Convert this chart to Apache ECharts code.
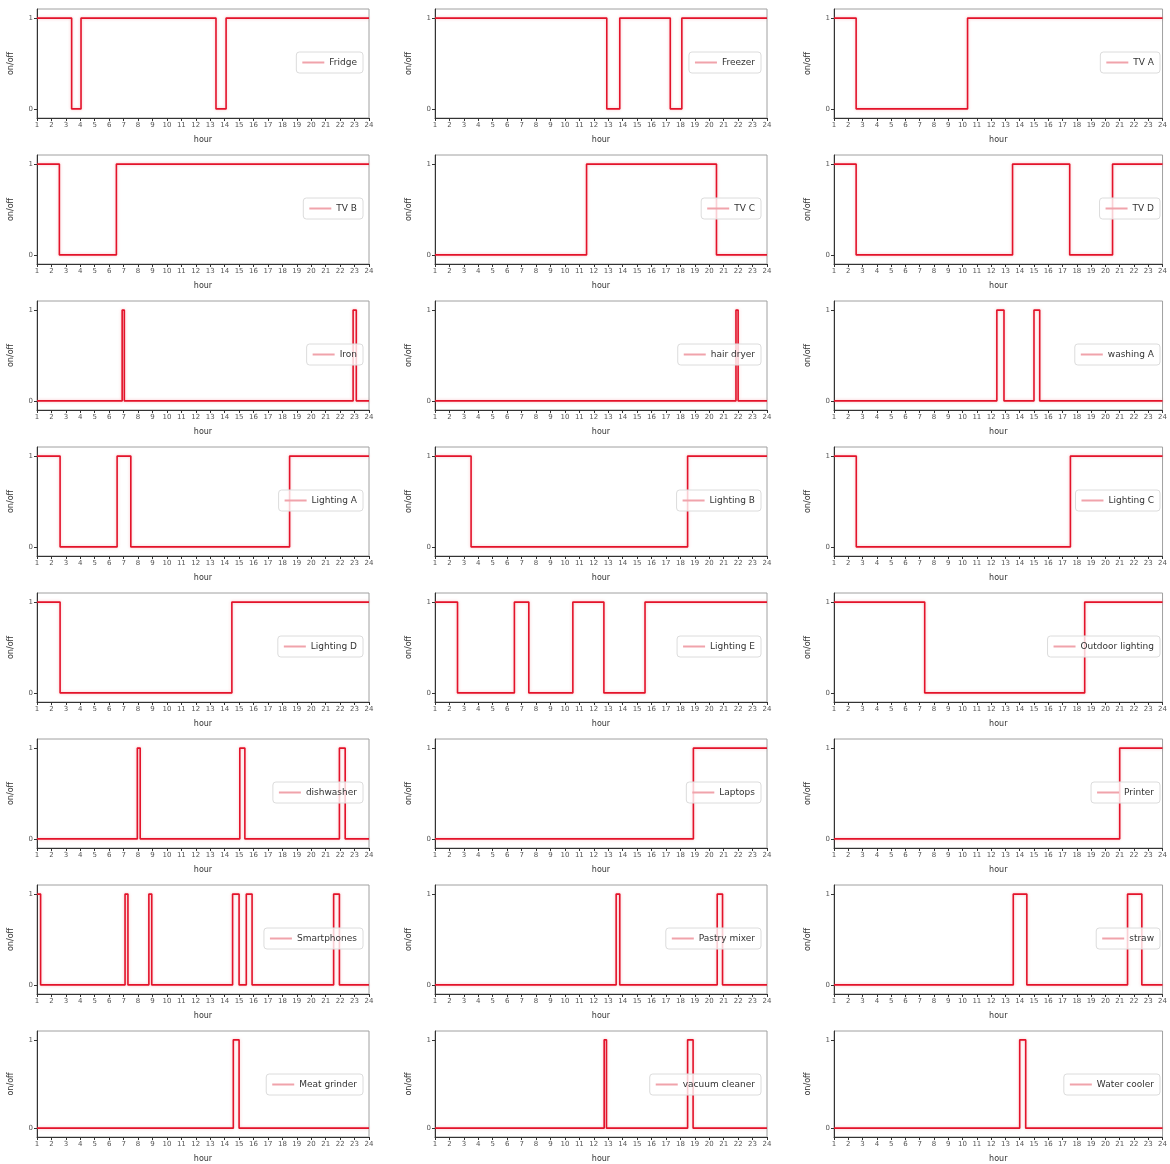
<!DOCTYPE html>
<html>
<head>
<meta charset="utf-8">
<script src="https://cdn.jsdelivr.net/npm/echarts@6/dist/echarts.min.js"></script>
<style>
  html, body { margin: 0; padding: 0; background: #fff; }
  #main { width: 1170px; height: 1164px; }
</style>
</head>
<body>
<div id="main"></div>
<script>
// switch points of each appliance: [hour, state], state held until next point
const fridge = [[1, 1], [3.4, 0], [4.05, 1], [13.4, 0], [14.1, 1], [24, 1]];
const freezer = [[1, 1], [12.9, 0], [13.8, 1], [17.3, 0], [18.1, 1], [24, 1]];
const tvA = [[1, 1], [2.55, 0], [10.35, 1], [24, 1]];
const tvB = [[1, 1], [2.55, 0], [6.5, 1], [24, 1]];
const tvC = [[1, 0], [11.5, 1], [20.5, 0], [24, 0]];
const tvD = [[1, 1], [2.55, 0], [13.5, 1], [17.5, 0], [20.5, 1], [24, 1]];
const iron = [[1, 0], [6.9, 1], [7.05, 0], [22.9, 1], [23.12, 0], [24, 0]];
const hairDryer = [[1, 0], [21.85, 1], [22.0, 0], [24, 0]];
const washingA = [[1, 0], [12.4, 1], [12.9, 0], [15.0, 1], [15.4, 0], [24, 0]];
const lightingA = [[1, 1], [2.6, 0], [6.55, 1], [7.5, 0], [18.5, 1], [24, 1]];
const lightingB = [[1, 1], [3.5, 0], [18.5, 1], [24, 1]];
const lightingC = [[1, 1], [2.56, 0], [17.55, 1], [24, 1]];
const lightingD = [[1, 1], [2.6, 0], [14.5, 1], [24, 1]];
const lightingE = [[1, 1], [2.56, 0], [6.5, 1], [7.5, 0], [10.55, 1], [12.7, 0], [15.55, 1], [24, 1]];
const outdoorLighting = [[1, 1], [7.35, 0], [18.55, 1], [24, 1]];
const dishwasher = [[1, 0], [7.95, 1], [8.15, 0], [15.05, 1], [15.4, 0], [21.95, 1], [22.35, 0], [24, 0]];
const laptops = [[1, 0], [18.9, 1], [24, 1]];
const printer = [[1, 0], [21.0, 1], [24, 1]];
const smartphones = [[1, 1], [1.25, 0], [7.1, 1], [7.3, 0], [8.75, 1], [8.95, 0], [14.55, 1], [15.0, 0], [15.5, 1], [15.9, 0], [21.55, 1], [21.95, 0], [24, 0]];
const pastryMixer = [[1, 0], [13.55, 1], [13.8, 0], [20.55, 1], [20.92, 0], [24, 0]];
const straw = [[1, 0], [13.55, 1], [14.5, 0], [21.55, 1], [22.55, 0], [24, 0]];
const meatGrinder = [[1, 0], [14.6, 1], [15.0, 0], [24, 0]];
const vacuumCleaner = [[1, 0], [12.72, 1], [12.88, 0], [18.5, 1], [18.88, 0], [24, 0]];
const waterCooler = [[1, 0], [14.0, 1], [14.42, 0], [24, 0]];

const names = ['Fridge', 'Freezer', 'TV A', 'TV B', 'TV C', 'TV D', 'Iron', 'hair dryer', 'washing A',
  'Lighting A', 'Lighting B', 'Lighting C', 'Lighting D', 'Lighting E', 'Outdoor lighting',
  'dishwasher', 'Laptops', 'Printer', 'Smartphones', 'Pastry mixer', 'straw',
  'Meat grinder', 'vacuum cleaner', 'Water cooler'];
const series = [fridge, freezer, tvA, tvB, tvC, tvD, iron, hairDryer, washingA,
  lightingA, lightingB, lightingC, lightingD, lightingE, outdoorLighting,
  dishwasher, laptops, printer, smartphones, pastryMixer, straw,
  meatGrinder, vacuumCleaner, waterCooler];
const hourTicks = [1, 2, 3, 4, 5, 6, 7, 8, 9, 10, 11, 12, 13, 14, 15, 16, 17, 18, 19, 20, 21, 22, 23, 24];
const stateTicks = [0, 1];

const colLeft = [37, 435, 834];
const plotW = 332, plotH = 109, rowTop = 9, rowStep = 146;
const font = 'DejaVu Sans';

let grid = [], xAxis = [], yAxis = [], legend = [], seriesList = [];
names.forEach(function (name, i) {
  let r = Math.floor(i / 3), c = i % 3;
  let top = rowTop + r * rowStep;
  grid.push({
    left: colLeft[c], top: top, width: plotW, height: plotH,
    show: true, borderColor: '#a0a0a0', borderWidth: 1, backgroundColor: '#fff'
  });
  xAxis.push({
    gridIndex: i, type: 'value', min: 1, max: 24, interval: 1,
    name: 'hour', nameLocation: 'middle', nameGap: 18,
    nameTextStyle: { fontFamily: font, fontSize: 8, color: '#333' },
    axisLine: { onZero: false, lineStyle: { color: '#333', width: 1 } },
    axisTick: { show: true, length: 3, lineStyle: { color: '#333' } },
    axisLabel: { fontFamily: font, fontSize: 7, color: '#555', margin: 4,
      customValues: hourTicks },
    splitLine: { show: false }
  });
  yAxis.push({
    gridIndex: i, type: 'value', min: -0.1, max: 1.1,
    name: 'on/off', nameLocation: 'middle', nameGap: 22, nameRotate: 90,
    nameTextStyle: { fontFamily: font, fontSize: 8, color: '#333' },
    axisLine: { show: true, lineStyle: { color: '#333', width: 1 } },
    axisTick: { show: true, length: 3, customValues: stateTicks, lineStyle: { color: '#333' } },
    axisLabel: { fontFamily: font, fontSize: 7, color: '#555', margin: 4, customValues: stateTicks },
    splitLine: { show: false }
  });
  legend.push({
    data: [name],
    right: 1170 - (colLeft[c] + plotW) + 6,
    top: top + 43,
    orient: 'vertical',
    icon: 'rect', itemWidth: 22, itemHeight: 2, itemGap: 0,
    itemStyle: { color: '#f0a3ab' },
    textStyle: { fontFamily: font, fontSize: 9, color: '#333' },
    backgroundColor: 'rgba(255,255,255,0.8)',
    borderColor: '#dcdcdc', borderWidth: 1, borderRadius: 3,
    padding: [6, 6, 6, 6]
  });
  seriesList.push({
    name: name, type: 'line', xAxisIndex: i, yAxisIndex: i,
    step: 'end', data: series[i], symbol: 'none',
    lineStyle: { color: '#e3132a', width: 1.6, shadowColor: 'rgba(240,110,120,0.45)', shadowBlur: 3 },
    itemStyle: { color: '#e3132a' },
    animation: false
  });
});

const chart = echarts.init(document.getElementById('main'), null, { renderer: 'canvas' });
chart.setOption({
  backgroundColor: '#fff',
  animation: false,
  grid: grid,
  xAxis: xAxis,
  yAxis: yAxis,
  legend: legend,
  series: seriesList
});
</script>
</body>
</html>
